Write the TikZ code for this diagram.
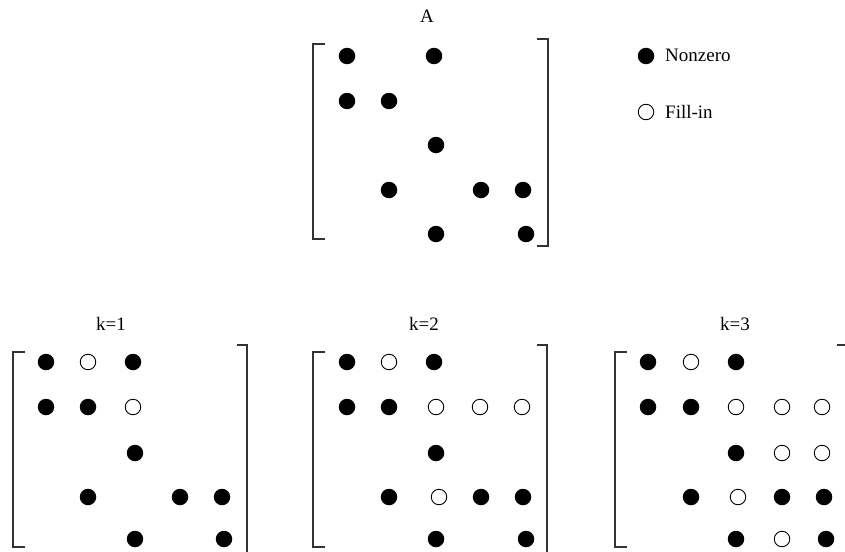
\documentclass[tikz,border=0pt]{standalone}
\usepackage{fontspec}
\setmainfont{Liberation Serif}
\begin{document}
\begin{tikzpicture}[x=1pt,y=-1pt,
  nz/.style={circle,fill=black,inner sep=0pt,minimum size=16.5pt},
  fi/.style={circle,draw=black,line width=0.9pt,fill=white,inner sep=0pt,minimum size=15.5pt},
  brk/.style={draw=black!80,line width=1.4pt},
  lbl/.style={font=\fontsize{19}{22}\selectfont,inner sep=0pt,anchor=base}]
\useasboundingbox (0,0) rectangle (845,551);
\clip (0,0) rectangle (845,551);

% ---------- Matrix A ----------
\node[lbl] (tA) at (427,23) {A};
\draw[brk] (325,44) -- (313,44) -- (313,239) -- (325,239);
\draw[brk] (537,39) -- (548,39) -- (548,246) -- (537,246);
\foreach \x/\y/\n in {347/56/11, 434/56/13, 347/101/21, 389/101/22, 436/145/33,
  389/190/42, 481/190/44, 523/190/45, 436/234/53, 526/234/55}
  \node[nz] (A-\n) at (\x,\y) {};

% ---------- Legend ----------
\node[nz] (lnz) at (646,56) {};
\node[lbl,anchor=base west] (lnzt) at (665,62) {Nonzero};
\node[fi] (lfi) at (646,112) {};
\node[lbl,anchor=base west] (lfit) at (665,118) {Fill-in};

% ---------- k=1 ----------
\node[lbl] (t1) at (111,330) {k=1};
\draw[brk] (25,352) -- (13,352) -- (13,547) -- (25,547);
\draw[brk] (237,345) -- (247,345) -- (247,556) -- (237,556);
\foreach \x/\y/\n in {46/362/11, 133/362/13, 46/407/21, 88/407/22, 135/453/33,
  88/497/42, 180/497/44, 222/497/45, 135/539/53, 224/539/55}
  \node[nz] (B-\n) at (\x,\y) {};
\foreach \x/\y/\n in {88/362/12, 133/407/23}
  \node[fi] (B-\n) at (\x,\y) {};

% ---------- k=2 ----------
\node[lbl] (t2) at (424,330) {k=2};
\draw[brk] (325,352) -- (313,352) -- (313,547) -- (325,547);
\draw[brk] (537,345) -- (547,345) -- (547,556) -- (537,556);
\foreach \x/\y/\n in {347/362/11, 434/362/13, 347/407/21, 389/407/22, 436/453/33,
  389/497/42, 481/497/44, 523/497/45, 436/539/53, 526/539/55}
  \node[nz] (C-\n) at (\x,\y) {};
\foreach \x/\y/\n in {389/362/12, 436/407/23, 480/407/24, 522/407/25, 439/497/43}
  \node[fi] (C-\n) at (\x,\y) {};

% ---------- k=3 ----------
\node[lbl] (t3) at (735,330) {k=3};
\draw[brk] (627,352) -- (615,352) -- (615,547) -- (627,547);
\draw[brk] (837,345) -- (848,345) -- (848,556);
\foreach \x/\y/\n in {648/362/11, 736/362/13, 648/407/21, 691/407/22, 736/453/33,
  691/497/42, 782/497/44, 824/497/45, 736/539/53, 826/539/55}
  \node[nz] (D-\n) at (\x,\y) {};
\foreach \x/\y/\n in {691/362/12, 736/407/23, 782/407/24, 822/407/25,
  782/453/34, 822/453/35, 738/497/43, 782/539/54}
  \node[fi] (D-\n) at (\x,\y) {};
\end{tikzpicture}
\end{document}
